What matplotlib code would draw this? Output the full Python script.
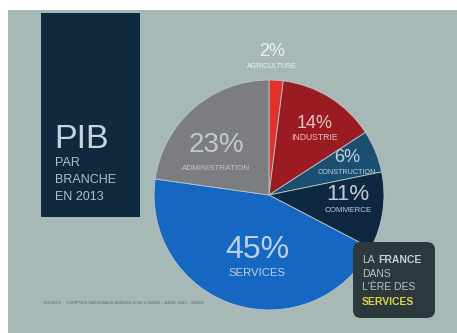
import matplotlib
matplotlib.use("Agg")
import matplotlib.pyplot as plt
from matplotlib.patches import Rectangle, FancyBboxPatch

# ---- data ----
categories = ["AGRICULTURE", "INDUSTRIE", "CONSTRUCTION", "COMMERCE", "SERVICES", "ADMINISTRATION"]
values = [2, 14, 6, 11, 45, 23]
pct_labels = ["2%", "14%", "6%", "11%", "45%", "23%"]
colors = ["#e0312b", "#9b1b23", "#1b4f72", "#0f2842", "#1567c2", "#7b7d80"]

W, H = 457, 333
plt.rcParams['font.family'] = ['Liberation Sans', 'DejaVu Sans']

fig = plt.figure(figsize=(W / 100, H / 100), dpi=100, facecolor="white")
ax = fig.add_axes([0, 0, 1, 1])

def Y(y):
    return H - y

# slide background
ax.add_patch(Rectangle((8, 0), W - 8, H - 10, facecolor="#a6b9b7", edgecolor="none", zorder=0))

# pie
ax.pie(values, colors=colors, startangle=90, counterclock=False,
       center=(269, Y(195)), radius=115, frame=True,
       wedgeprops=dict(linewidth=0.6, edgecolor="#b9c6c9"))

# labels: (pct size, name size, x, y_pct, y_name, colour)
label_layout = [
    (13, 5.0, 272, 52, 66, "#eef2f2"),
    (13, 6.2, 315, 123, 137, "#e6c4c4"),
    (13, 5.2, 347, 157, 172, "#c2d2de"),
    (16, 5.8, 348, 195, 211, "#c2ccd6"),
    (23, 8.2, 257, 250, 273, "#bcd0e4"),
    (20, 5.8, 216, 145, 168, "#c4c8cc"),
]
for lab, cat, (ps, ns, x, yp, yn, col) in zip(pct_labels, categories, label_layout):
    ax.text(x, Y(yp), lab, fontsize=ps, color=col, ha="center", va="center", zorder=5)
    ax.text(x, Y(yn), cat, fontsize=ns, color=col, ha="center", va="center", zorder=5)

# left title box
ax.add_patch(Rectangle((41, Y(217)), 99, 204, facecolor="#0f2a3f", edgecolor="none", zorder=3))
ax.text(54, Y(140), "PIB", fontsize=24.5, color="#c6d6de", ha="left", va="center", zorder=4)
for t, yy in zip(["PAR", "BRANCHE", "EN 2013"], [163, 180, 197]):
    ax.text(55, Y(yy), t, fontsize=9, color="#aebfc8", ha="left", va="center", zorder=4)

# bottom right box
ax.add_patch(FancyBboxPatch((353, Y(318)), 82, 76,
                            boxstyle="round,pad=0,rounding_size=8",
                            facecolor="#2c393c", edgecolor="none", zorder=6))
ax.text(362, Y(260), "LA", fontsize=7.5, color="#c2cacc", ha="left", va="center", zorder=7)
ax.text(378, Y(260), "FRANCE", fontsize=7.5, color="#c8d0d2", fontweight="bold",
        ha="left", va="center", zorder=7)
ax.text(362, Y(274), "DANS", fontsize=7.5, color="#b8c0c2", ha="left", va="center", zorder=7)
ax.text(362, Y(287), "L'ÈRE DES", fontsize=7.5, color="#b8c0c2", ha="left", va="center", zorder=7)
ax.text(362, Y(302), "SERVICES", fontsize=7.5, color="#dcd445", fontweight="bold",
        ha="left", va="center", zorder=7)

# source
ax.text(43, Y(303), "SOURCE : COMPTES NATIONAUX ANNUELS DE L'INSEE - BASE 2010 - INSEE",
        fontsize=3.2, color="#5f6b6c", ha="left", va="center", zorder=4)

ax.set_xlim(0, W)
ax.set_ylim(0, H)
ax.set_aspect("auto")
ax.axis("off")

fig.savefig("out.png", dpi=100, facecolor="white")
